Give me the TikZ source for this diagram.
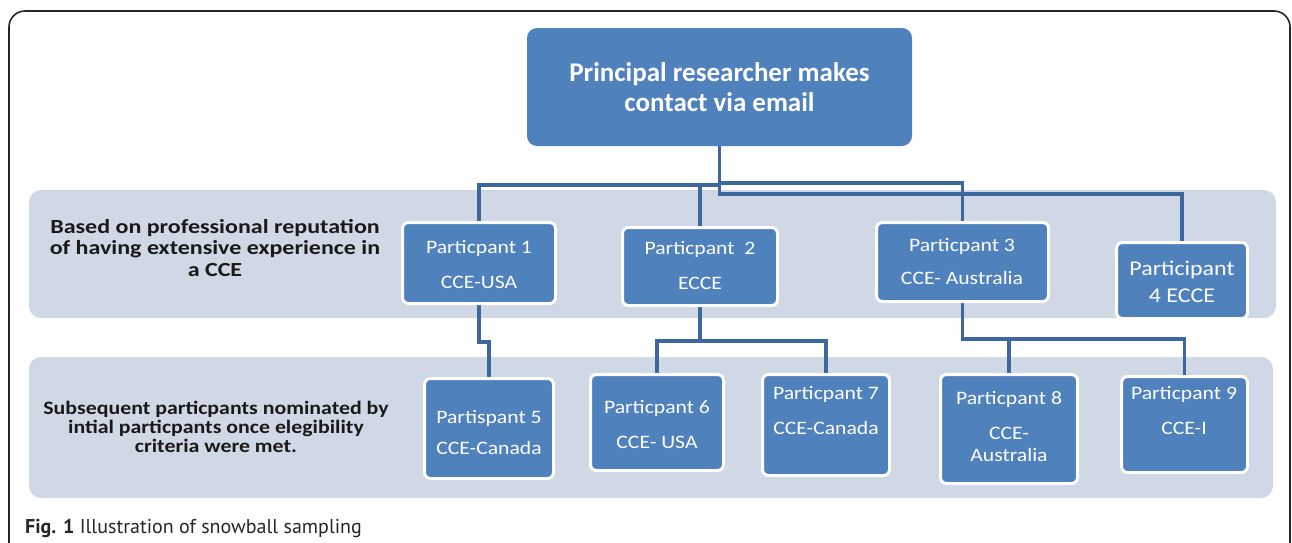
\documentclass[tikz,border=0pt]{standalone}
\usepackage{fontspec}
\setmainfont{Carlito}
\newfontfamily\capfont{PT Sans}
\newfontfamily\boxfont[FakeStretch=1.14]{Carlito}
\newfontfamily\bandfont[FakeStretch=1.2]{Carlito}
\newfontfamily\bandfontb[FakeStretch=1.15]{Carlito}
\definecolor{boxblue}{HTML}{4F81BD}
\definecolor{bandfill}{HTML}{D0D8E6}
\definecolor{connblue}{HTML}{3C689E}
\tikzset{
  frame/.style={draw=black!85, line width=1.6pt, rounded corners=16pt},
  band/.style={fill=bandfill, rounded corners=12pt, inner sep=0pt},
  pbox/.style={fill=boxblue, draw=white, line width=3pt, rounded corners=6pt, inner sep=0pt},
  topbox/.style={fill=boxblue, rounded corners=10pt, inner sep=0pt},
  conn/.style={draw=connblue, line width=3.5pt},
  ptxt/.style={text=white, align=center, font=\boxfont\fontsize{19}{35}\selectfont, inner sep=0pt},
  bandtxt/.style={text=black!90, align=center, inner sep=0pt},
}
\begin{document}
\begin{tikzpicture}[x=1pt,y=-1pt]
\useasboundingbox (0,0) rectangle (1292,542);
\begin{scope}
\clip (0,0) rectangle (1292,542);
\draw[frame] (9,11) rectangle (1290,620);
\end{scope}
% bands
\node[band, minimum width=1247pt, minimum height=128pt] (band1) at (652.5,254) {};
\node[band, minimum width=1244pt, minimum height=141pt] (band2) at (651,427.5) {};
\node[bandtxt, font=\bandfont\bfseries\fontsize{20}{21.5}\selectfont] (b1t) at (215,248) {Based on professional reputation\\of having extensive experience in\\a CCE};
\node[bandtxt, font=\bandfontb\bfseries\fontsize{19}{19}\selectfont] (b2t) at (216,427) {Subsequent particpants nominated by\\intial particpants once elegibility\\criteria were met.};
% boxes (shapes)
\node[topbox, minimum width=385pt, minimum height=118pt] (top) at (719.5,87) {};
\node[pbox, minimum width=150pt, minimum height=78pt] (p1) at (479,263) {};
\node[pbox, minimum width=152pt, minimum height=75pt] (p2) at (700,266.5) {};
\node[pbox, minimum width=169pt, minimum height=76pt] (p3) at (962.5,262) {};
\node[pbox, minimum width=128pt, minimum height=73pt] (p4) at (1182,280.5) {};
\node[pbox, minimum width=126pt, minimum height=97pt] (p5) at (489,428.5) {};
\node[pbox, minimum width=130pt, minimum height=93pt] (p6) at (657,422.5) {};
\node[pbox, minimum width=124pt, minimum height=98pt] (p7) at (826,425) {};
\node[pbox, minimum width=134pt, minimum height=106pt] (p8) at (1009,429) {};
\node[pbox, minimum width=123pt, minimum height=93pt] (p9) at (1184.5,424.5) {};
% connectors
\draw[conn] (top.south) -- (top.south |- 0,185) -| (p1.north);
\draw[conn] (top.south |- 0,185) -| (p2.north);
\draw[conn] (top.south |- 0,183) -| (p3.north);
\draw[conn] (top.south) -- (top.south |- 0,194) -| (p4.north);
\draw[conn] (p1.south) -- (p1.south |- 0,342) -| (p5.north);
\draw[conn] (p2.south) -- (p2.south |- 0,341) -| (p6.north);
\draw[conn] (p2.south |- 0,341) -| (p7.north);
\draw[conn] (p3.south) -- (p3.south |- 0,339) -| (p8.north);
\draw[conn] (p3.south |- 0,339) -| (p9.north);
% redraw boxes over connector ends
\foreach \n in {p1,p2,p3,p4,p5,p6,p7,p8,p9}{
  \draw[draw=white, line width=3pt, rounded corners=6pt, fill=boxblue] (\n.south west) rectangle (\n.north east);
}
% texts
\node[text=white, align=center, font=\bfseries\fontsize{27}{30}\selectfont, inner sep=0pt] (topt) at (719.5,87) {Principal researcher makes\\contact via email};
\node[ptxt] (t1) at (479,264.5) {Particpant 1\\CCE-USA};
\node[ptxt] (t2) at (700,265.5) {Particpant\ \ 2\\ECCE};
\node[ptxt, font=\boxfont\fontsize{19}{33}\selectfont] (t3) at (962,261.5) {Particpant 3\\CCE- Australia};
\node[ptxt, font=\boxfont\fontsize{21}{27}\selectfont] (t4) at (1182,281.5) {Participant\\4 ECCE};
\node[ptxt, font=\boxfont\fontsize{19}{31}\selectfont] (t5) at (489,432.5) {Partispant 5\\CCE-Canada};
\node[ptxt] (t6) at (657,424.5) {Particpant 6\\CCE- USA};
\node[ptxt] (t7) at (826,410.5) {Particpant 7\\CCE-Canada};
\node[ptxt, font=\boxfont\fontsize{19}{22}\selectfont] (t8) at (1009,426.5) {Particpant 8\\[13pt]CCE-\\Australia};
\node[ptxt] (t9) at (1184,410.5) {Particpant 9\\CCE-I};
\node[anchor=base west, inner sep=0pt, font=\capfont\fontsize{20}{22}\selectfont, text=black!85] (cap) at (25,533) {\textbf{Fig. 1} Illustration of snowball sampling};
\end{tikzpicture}
\end{document}
